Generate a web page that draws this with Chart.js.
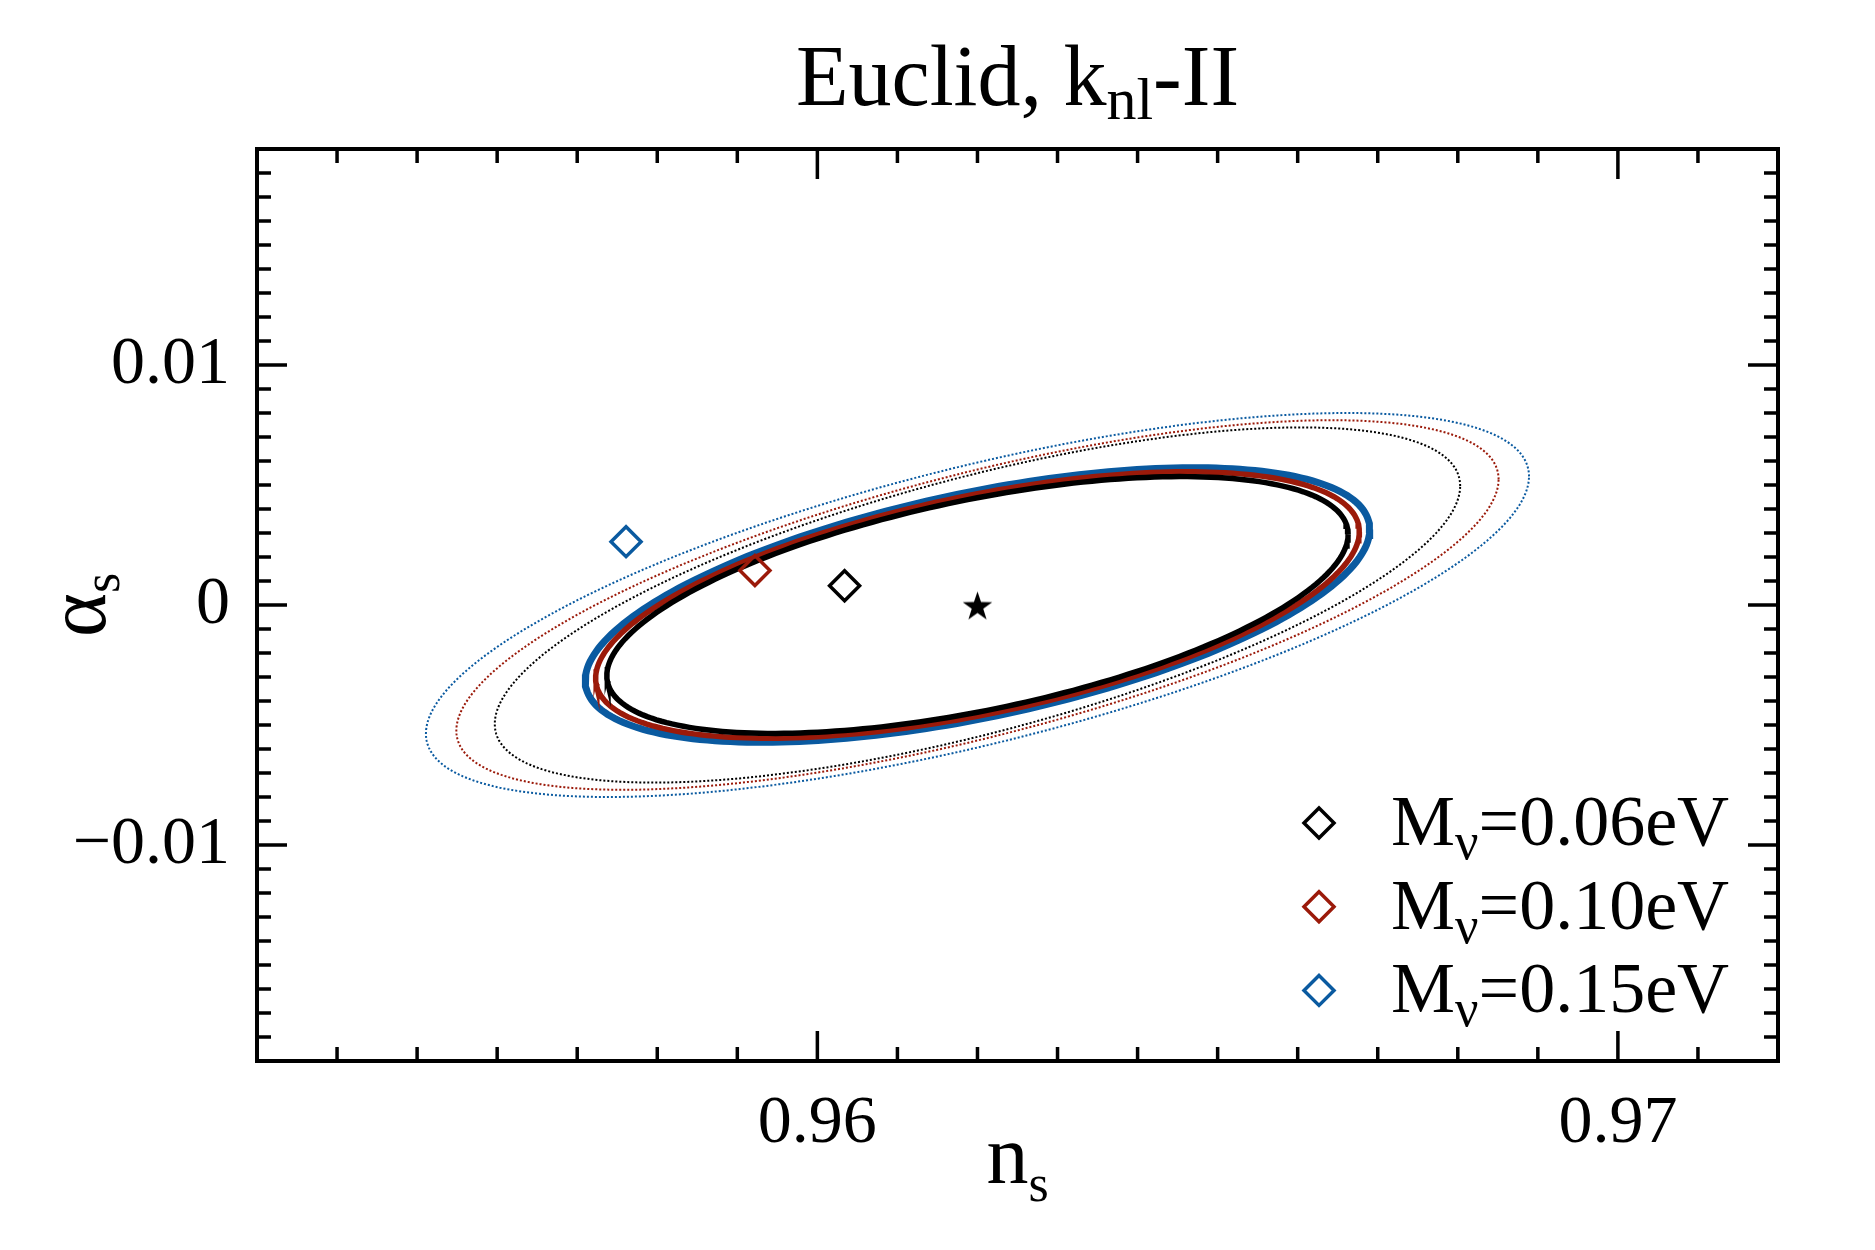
<!DOCTYPE html>
<html>
<head>
<meta charset="utf-8">
<title>Euclid, knl-II</title>
<script src="https://cdn.jsdelivr.net/npm/chart.js@4.4.0/dist/chart.umd.min.js"></script>
<style>
  html, body { margin: 0; padding: 0; background: #fff; }
  #wrap { width: 1875px; height: 1250px; position: relative; }
</style>
</head>
<body>
<div id="wrap"><canvas id="fisherChart"></canvas></div>
<script>
// ---- values ----
const fiducial = { ns: 0.962, alpha: 0.0 };
const massLabels = ['0.06eV', '0.10eV', '0.15eV'];
const massColors = ['#000000', '#9b1a0a', '#0a5aa0'];

// shifted best-fit points, one per neutrino mass
const biasNs = [0.96034, 0.95922, 0.95761];
const biasAlpha = [0.0008, 0.00144, 0.00264];

// solid contours: half extent in ns, half extent in alpha_s, correlation
const solidHalfNs = [0.00463, 0.00477, 0.0049];
const solidHalfAlpha = [0.00535, 0.00555, 0.00572];
const solidRho = [0.55, 0.55, 0.55];
const solidWidth = [5.5, 5.5, 7];

// dotted contours
const dottedHalfNs = [0.00603, 0.00651, 0.00689];
const dottedHalfAlpha = [0.0074, 0.0077, 0.008];
const dottedRho = [0.67, 0.68, 0.67];

// axes
const nsRange = [0.953, 0.972];
const alphaRange = [-0.019, 0.019];
const nsTicks = [0.96, 0.97];
const alphaTicks = [-0.01, 0, 0.01];
const minorStep = 0.001;

const FONT = "'Liberation Serif', 'DejaVu Serif', serif";

// Fisher ellipse around the fiducial from its extents and correlation
function contour(hx, hy, rho) {
  const pts = [];
  const s = Math.sqrt(1 - rho * rho);
  for (let i = 0; i <= 240; i++) {
    const t = 2 * Math.PI * i / 240;
    pts.push({
      x: fiducial.ns + hx * Math.cos(t),
      y: fiducial.alpha + hy * (rho * Math.cos(t) + s * Math.sin(t))
    });
  }
  return pts;
}

function makeStar(R) {
  const c = document.createElement('canvas');
  const size = Math.ceil(2 * R + 2);
  c.width = c.height = size;
  const g = c.getContext('2d');
  g.fillStyle = '#000';
  g.beginPath();
  for (let i = 0; i < 10; i++) {
    const r = i % 2 ? R * 0.39 : R;
    const a = -Math.PI / 2 + i * Math.PI / 5;
    g.lineTo(size / 2 + r * Math.cos(a), size / 2 + 2 + r * Math.sin(a));
  }
  g.closePath();
  g.fill();
  return c;
}

function fmtTick(v) {
  if (Math.abs(v) < 1e-12) return '0';
  return (v < 0 ? '\u2212' : '') + Math.abs(v).toFixed(2);
}

const datasets = [];
datasets.push({
  label: 'fiducial',
  data: [{ x: fiducial.ns, y: fiducial.alpha }],
  pointStyle: makeStar(15.5),
  pointRadius: 15,
  showLine: false
});
massLabels.forEach((m, i) => {
  datasets.push({
    label: 'M_nu=' + m,
    data: [{ x: biasNs[i], y: biasAlpha[i] }],
    pointStyle: 'rectRot',
    pointRadius: 15,
    pointBorderWidth: 3.5,
    borderColor: massColors[i],
    backgroundColor: 'rgba(0,0,0,0)',
    showLine: false
  });
});
massLabels.forEach((m, i) => {
  datasets.push({
    label: 'solid ' + m,
    data: contour(solidHalfNs[i], solidHalfAlpha[i], solidRho[i]),
    showLine: true,
    pointRadius: 0,
    borderColor: massColors[i],
    borderWidth: solidWidth[i],
    tension: 0
  });
});
massLabels.forEach((m, i) => {
  datasets.push({
    label: 'dotted ' + m,
    data: contour(dottedHalfNs[i], dottedHalfAlpha[i], dottedRho[i]),
    showLine: true,
    pointRadius: 0,
    borderColor: massColors[i],
    borderWidth: 2,
    borderDash: [2, 2],
    tension: 0
  });
});

// text with subscripts: parts = [[text, size, dy], ...]
function richWidth(ctx, parts) {
  let w = 0;
  parts.forEach(p => { ctx.font = p[1] + 'px ' + FONT; w += ctx.measureText(p[0]).width; });
  return w;
}
function drawRich(ctx, parts, x, y) {
  parts.forEach(p => {
    ctx.font = p[1] + 'px ' + FONT;
    ctx.fillText(p[0], x, y + (p[2] || 0));
    x += ctx.measureText(p[0]).width;
  });
}

const decor = {
  id: 'decor',
  afterDraw(chart) {
    const ctx = chart.ctx;
    const a = chart.chartArea;
    const xs = chart.scales.x, ys = chart.scales.y;
    ctx.save();
    ctx.strokeStyle = '#000';
    ctx.fillStyle = '#000';

    // inward ticks on all four sides
    ctx.lineWidth = 3.5;
    const isMajor = (v, list) => list.some(t => Math.abs(t - v) < 1e-9);
    for (let k = Math.ceil(nsRange[0] / minorStep - 1e-9); k * minorStep <= nsRange[1] + 1e-9; k++) {
      const v = k * minorStep;
      const px = xs.getPixelForValue(v);
      const len = isMajor(v, nsTicks) ? 30 : 14;
      ctx.beginPath();
      ctx.moveTo(px, a.bottom); ctx.lineTo(px, a.bottom - len);
      ctx.moveTo(px, a.top); ctx.lineTo(px, a.top + len);
      ctx.stroke();
    }
    for (let k = Math.ceil(alphaRange[0] / minorStep - 1e-9); k * minorStep <= alphaRange[1] + 1e-9; k++) {
      const v = k * minorStep;
      const py = ys.getPixelForValue(v);
      const len = isMajor(v, alphaTicks) ? 30 : 14;
      ctx.beginPath();
      ctx.moveTo(a.left, py); ctx.lineTo(a.left + len, py);
      ctx.moveTo(a.right, py); ctx.lineTo(a.right - len, py);
      ctx.stroke();
    }

    // frame
    ctx.lineWidth = 4;
    ctx.strokeRect(a.left, a.top, a.right - a.left, a.bottom - a.top);

    // title
    ctx.textBaseline = 'alphabetic';
    const title = [['Euclid, k', 86], ['nl', 60, 14], ['-II', 86]];
    const cx = (a.left + a.right) / 2;
    drawRich(ctx, title, cx - richWidth(ctx, title) / 2, 105);

    // x axis title
    const xt = [['n', 84], ['s', 52, 18]];
    drawRich(ctx, xt, cx - richWidth(ctx, xt) / 2, 1183);

    // y axis title
    const yt = [['\u03b1', 84], ['s', 52, 14]];
    ctx.save();
    ctx.translate(105, (a.top + a.bottom) / 2);
    ctx.rotate(-Math.PI / 2);
    drawRich(ctx, yt, -richWidth(ctx, yt) / 2, 0);
    ctx.restore();

    // legend
    massLabels.forEach((m, i) => {
      const yc = 823 + i * 83.7;
      ctx.strokeStyle = massColors[i];
      ctx.lineWidth = 3.5;
      ctx.beginPath();
      ctx.moveTo(1319 - 15, yc); ctx.lineTo(1319, yc - 15);
      ctx.lineTo(1319 + 15, yc); ctx.lineTo(1319, yc + 15);
      ctx.closePath();
      ctx.stroke();
      ctx.fillStyle = '#000';
      drawRich(ctx, [['M', 72], ['\u03bd', 52, 14], ['=0.' + m.slice(2), 72]], 1391, yc + 22);
    });
    ctx.restore();
  }
};

new Chart(document.getElementById('fisherChart'), {
  type: 'scatter',
  data: { datasets: datasets },
  options: {
    responsive: true,
    maintainAspectRatio: false,
    devicePixelRatio: 1,
    animation: false,
    events: [],
    layout: { padding: { left: 0, right: 97, top: 149, bottom: 0 } },
    plugins: { legend: { display: false }, tooltip: { enabled: false } },
    scales: {
      x: {
        type: 'linear',
        min: nsRange[0],
        max: nsRange[1],
        grid: { display: false, drawTicks: false, tickLength: 0 },
        border: { display: false },
        afterBuildTicks: (scale) => { scale.ticks = nsTicks.map(v => ({ value: v })); },
        afterFit: (scale) => { scale.height = 189; },
        ticks: {
          autoSkip: false,
          maxRotation: 0,
          minRotation: 0,
          padding: 22,
          color: '#000',
          font: { family: FONT, size: 68 },
          callback: (v) => fmtTick(v)
        }
      },
      y: {
        type: 'linear',
        min: alphaRange[0],
        max: alphaRange[1],
        grid: { display: false, drawTicks: false, tickLength: 0 },
        border: { display: false },
        afterBuildTicks: (scale) => { scale.ticks = alphaTicks.map(v => ({ value: v })); },
        afterFit: (scale) => { scale.width = 257; },
        ticks: {
          autoSkip: false,
          padding: 27,
          color: '#000',
          font: { family: FONT, size: 68 },
          callback: (v) => fmtTick(v)
        }
      }
    }
  },
  plugins: [decor]
});
</script>
</body>
</html>
